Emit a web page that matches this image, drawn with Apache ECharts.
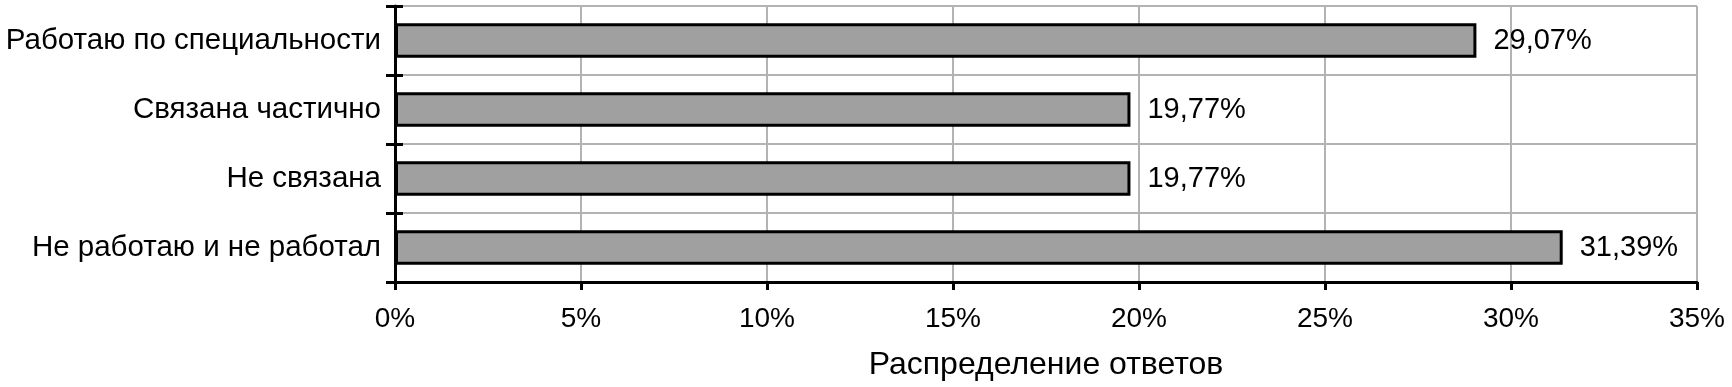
<!DOCTYPE html>
<html>
<head>
<meta charset="utf-8">
<script src="https://cdn.jsdelivr.net/npm/echarts@6/dist/echarts.min.js"></script>
<style>
html,body{margin:0;padding:0;background:#fff;}
#chart{width:1732px;height:387px;}
</style>
</head>
<body>
<div id="chart"></div>
<script>
const categories = ['Работаю по специальности', 'Связана частично', 'Не связана', 'Не работаю и не работал'];
const values = [29.07, 19.77, 19.77, 31.39];
const xTicks = [0, 5, 10, 15, 20, 25, 30, 35];
const axisName = 'Распределение ответов';

const FONT = '"Liberation Sans", Arial, sans-serif';
const chart = echarts.init(document.getElementById('chart'), null, {renderer: 'canvas'});
chart.setOption({
  animation: false,
  backgroundColor: '#fff',
  grid: {left: 395, right: 35, top: 6, bottom: 105, containLabel: false, outerBoundsMode: 'none'},
  xAxis: {
    type: 'value',
    min: xTicks[0],
    max: xTicks[xTicks.length - 1],
    interval: 5,
    name: axisName,
    nameLocation: 'middle',
    nameGap: 67,
    nameTextStyle: {fontFamily: FONT, fontSize: 32, color: '#000'},
    axisLine: {show: true, lineStyle: {color: '#000', width: 3}},
    axisTick: {show: true, length: 8, lineStyle: {color: '#000', width: 3}},
    axisLabel: {fontFamily: FONT, fontSize: 28, color: '#000', margin: 23,
      formatter: v => v + '%'},
    splitLine: {show: true, lineStyle: {color: '#b3b3b3', width: 2}}
  },
  yAxis: [{
    type: 'category',
    data: categories,
    inverse: true,
    axisLine: {show: true, lineStyle: {color: '#000', width: 3}},
    axisTick: {show: true, length: 9, lineStyle: {color: '#000', width: 3}},
    axisLabel: {fontFamily: FONT, fontSize: 29.5, color: '#000', margin: 14},
    splitLine: {show: true, lineStyle: {color: '#b3b3b3', width: 2}}
  }, {
    type: 'category',
    data: categories,
    inverse: true,
    position: 'left',
    axisLine: {show: false},
    axisTick: {show: true, inside: true, length: 8, lineStyle: {color: '#000', width: 3}},
    axisLabel: {show: false},
    splitLine: {show: false}
  }],
  series: [{
    type: 'bar',
    yAxisIndex: 0,
    data: values,
    barCategoryGap: '50%',
    itemStyle: {color: '#a0a0a0', borderColor: '#000', borderWidth: 3},
    label: {
      show: true,
      position: 'right',
      distance: 17,
      fontFamily: FONT,
      fontSize: 29,
      color: '#000',
      formatter: p => p.value.toFixed(2).replace('.', ',') + '%'
    }
  }]
});
</script>
</body>
</html>
